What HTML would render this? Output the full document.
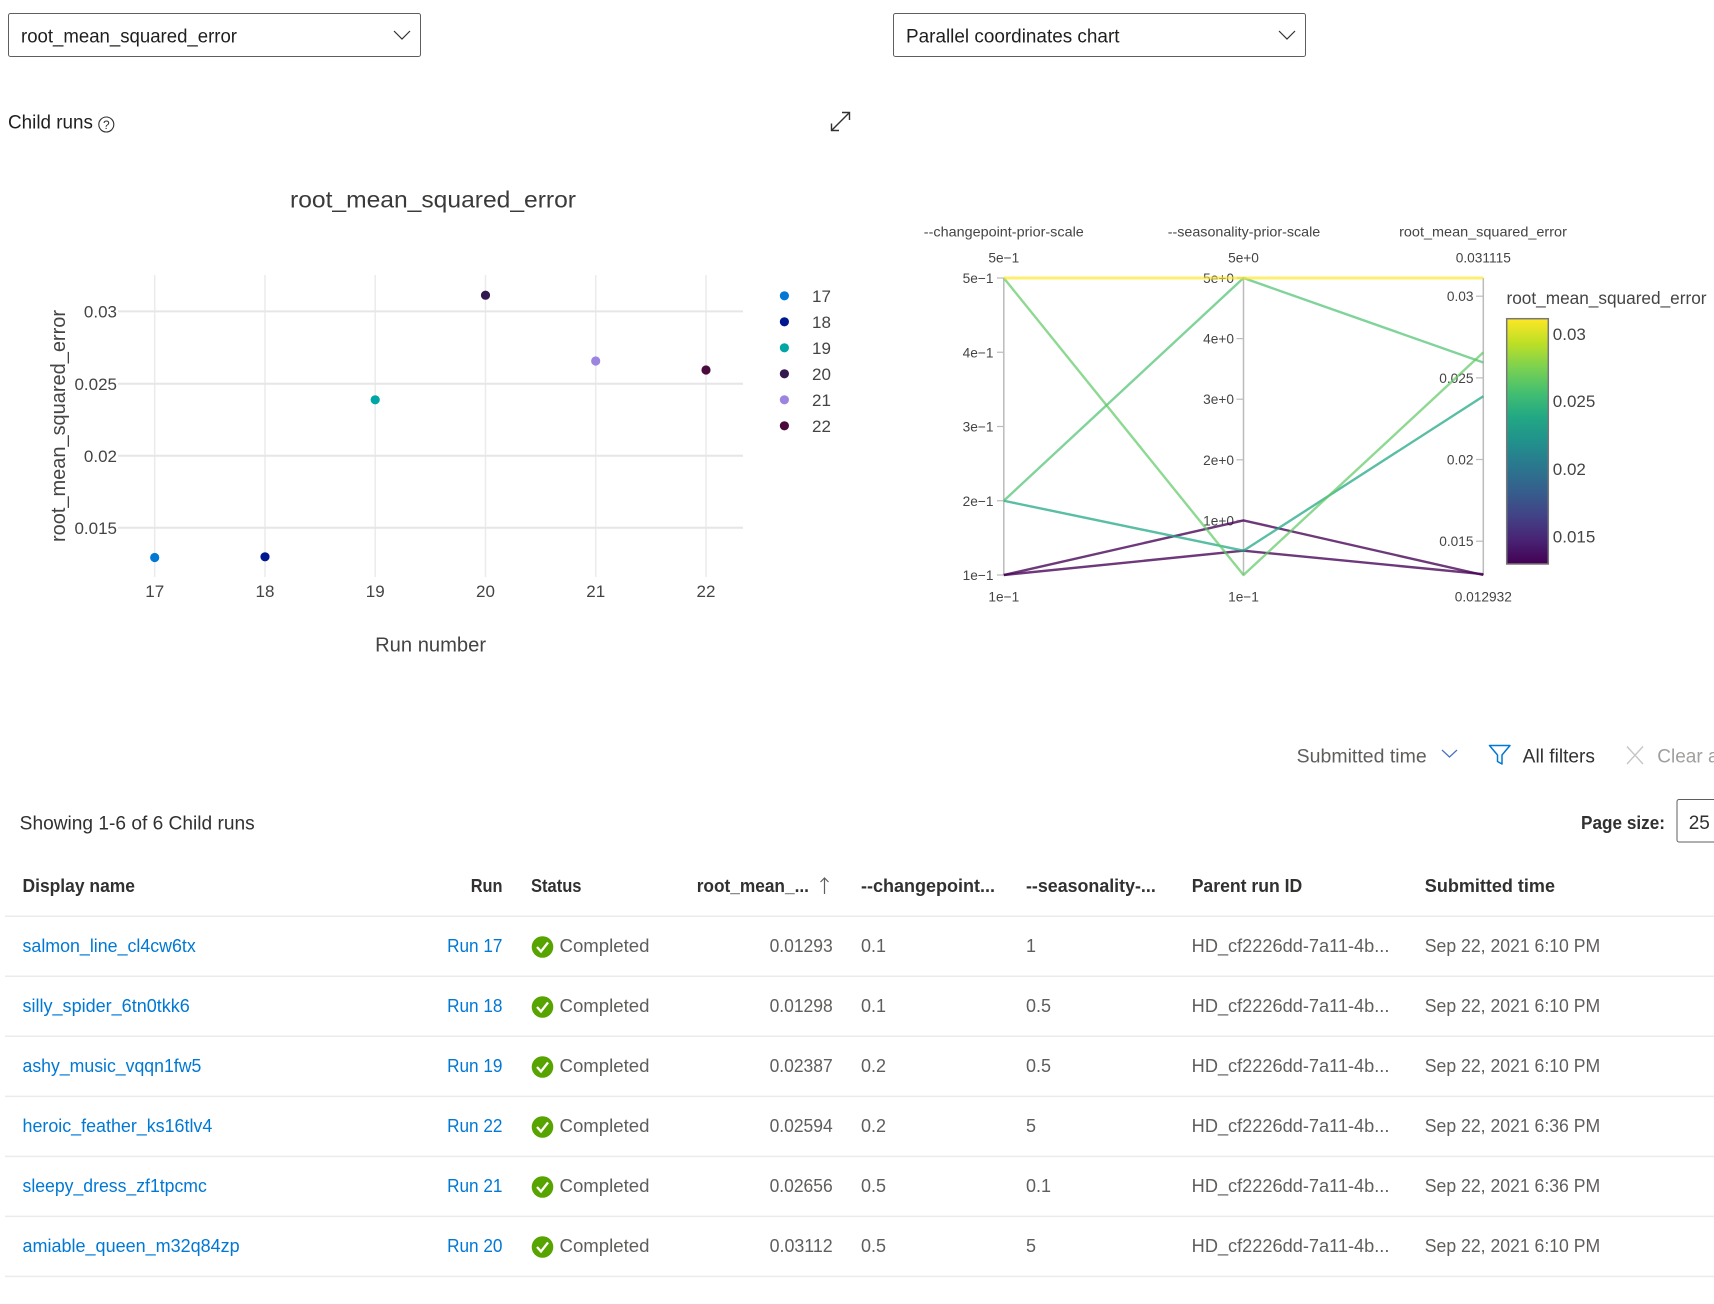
<!DOCTYPE html>
<html>
<head>
<meta charset="utf-8">
<style>
  html,body{margin:0;padding:0;background:#fff;}
  svg{display:block;}
  text{font-family:"Liberation Sans",sans-serif;}
</style>
</head>
<body>
<svg width="1714" height="1304" viewBox="0 0 1714 1304" xmlns="http://www.w3.org/2000/svg">
  <defs>
    <linearGradient id="vir" x1="0" y1="1" x2="0" y2="0">
      <stop offset="0" stop-color="#440154"/>
      <stop offset="0.1" stop-color="#482475"/>
      <stop offset="0.2" stop-color="#414487"/>
      <stop offset="0.3" stop-color="#355f8d"/>
      <stop offset="0.4" stop-color="#2a788e"/>
      <stop offset="0.5" stop-color="#21918c"/>
      <stop offset="0.6" stop-color="#22a884"/>
      <stop offset="0.7" stop-color="#44bf70"/>
      <stop offset="0.8" stop-color="#7ad151"/>
      <stop offset="0.9" stop-color="#bddf26"/>
      <stop offset="1" stop-color="#fde725"/>
    </linearGradient>
  </defs>

  <!-- Dropdown 1 -->
  <rect x="8.5" y="13.5" width="412" height="43" rx="2" fill="#fff" stroke="#605e5c" stroke-width="1"/>
  <text x="21" y="42.5" font-size="19" fill="#201f1e" textLength="216" lengthAdjust="spacingAndGlyphs">root_mean_squared_error</text>
  <polyline points="394,31 402,39 410,31" fill="none" stroke="#323130" stroke-width="1.2"/>

  <!-- Dropdown 2 -->
  <rect x="893.5" y="13.5" width="412" height="43" rx="2" fill="#fff" stroke="#605e5c" stroke-width="1"/>
  <text x="906" y="42.5" font-size="19" fill="#201f1e" textLength="213.5" lengthAdjust="spacingAndGlyphs">Parallel coordinates chart</text>
  <polyline points="1279,31 1287,39 1295,31" fill="none" stroke="#323130" stroke-width="1.2"/>

  <!-- Child runs -->
  <text x="8" y="128.3" font-size="19" fill="#201f1e" textLength="85" lengthAdjust="spacingAndGlyphs">Child runs</text>
  <circle cx="106.3" cy="124.5" r="7.5" fill="none" stroke="#323130" stroke-width="1.1"/>
  <text x="106.3" y="128.8" font-size="12" fill="#323130" text-anchor="middle">?</text>

  <!-- Expand icon -->
  <g stroke="#323130" stroke-width="1.4" fill="none">
    <line x1="832" y1="130" x2="849" y2="113"/>
    <polyline points="842,112.5 849.5,112.5 849.5,120"/>
    <polyline points="831.5,123.5 831.5,130.5 839,130.5"/>
  </g>

  <!-- Scatter chart -->
  <text x="433" y="207.3" font-size="23.5" fill="#3b3a39" text-anchor="middle" textLength="286" lengthAdjust="spacingAndGlyphs">root_mean_squared_error</text>

  <g stroke="#ebebeb" stroke-width="1.5">
    <line x1="154.7" y1="275" x2="154.7" y2="577"/>
    <line x1="265" y1="275" x2="265" y2="577"/>
    <line x1="375.2" y1="275" x2="375.2" y2="577"/>
    <line x1="485.5" y1="275" x2="485.5" y2="577"/>
    <line x1="595.7" y1="275" x2="595.7" y2="577"/>
    <line x1="706" y1="275" x2="706" y2="577"/>
  </g>
  <g stroke="#e6e6e6" stroke-width="2">
    <line x1="118" y1="311.4" x2="743" y2="311.4"/>
    <line x1="118" y1="383.8" x2="743" y2="383.8"/>
    <line x1="118" y1="455.8" x2="743" y2="455.8"/>
    <line x1="118" y1="527.8" x2="743" y2="527.8"/>
  </g>
  <g font-size="17" fill="#444" text-anchor="end">
    <text x="117" y="317.5">0.03</text>
    <text x="117" y="389.9">0.025</text>
    <text x="117" y="461.9">0.02</text>
    <text x="117" y="533.9">0.015</text>
  </g>
  <g font-size="17" fill="#444" text-anchor="middle">
    <text x="154.7" y="597">17</text>
    <text x="265" y="597">18</text>
    <text x="375.2" y="597">19</text>
    <text x="485.5" y="597">20</text>
    <text x="595.7" y="597">21</text>
    <text x="706" y="597">22</text>
  </g>
  <text x="430.6" y="651.5" font-size="20" fill="#444" text-anchor="middle" textLength="111" lengthAdjust="spacingAndGlyphs">Run number</text>
  <text transform="translate(65,426) rotate(-90)" font-size="20" fill="#444" text-anchor="middle" textLength="232" lengthAdjust="spacingAndGlyphs">root_mean_squared_error</text>

  <circle cx="154.7" cy="557.5" r="4.6" fill="#0078d4"/>
  <circle cx="265" cy="556.8" r="4.6" fill="#00188f"/>
  <circle cx="375.2" cy="399.8" r="4.6" fill="#00a6a6"/>
  <circle cx="485.5" cy="295.2" r="4.6" fill="#32184f"/>
  <circle cx="595.7" cy="361" r="4.6" fill="#9b85e0"/>
  <circle cx="706" cy="370" r="4.6" fill="#4b0a3c"/>

  <!-- Legend -->
  <circle cx="784.4" cy="295.8" r="4.6" fill="#0078d4"/>
  <circle cx="784.4" cy="321.8" r="4.6" fill="#00188f"/>
  <circle cx="784.4" cy="347.8" r="4.6" fill="#00a6a6"/>
  <circle cx="784.4" cy="373.8" r="4.6" fill="#32184f"/>
  <circle cx="784.4" cy="399.8" r="4.6" fill="#9b85e0"/>
  <circle cx="784.4" cy="425.8" r="4.6" fill="#4b0a3c"/>
  <g font-size="17" fill="#444">
    <text x="812" y="301.8">17</text>
    <text x="812" y="327.8">18</text>
    <text x="812" y="353.8">19</text>
    <text x="812" y="379.8">20</text>
    <text x="812" y="405.8">21</text>
    <text x="812" y="431.8">22</text>
  </g>

  <!-- Parallel coordinates -->
  <g font-size="14" fill="#444" text-anchor="middle">
    <text x="1003.8" y="236.5" textLength="160" lengthAdjust="spacingAndGlyphs">--changepoint-prior-scale</text>
    <text x="1244" y="236.5" textLength="152.5" lengthAdjust="spacingAndGlyphs">--seasonality-prior-scale</text>
    <text x="1483" y="236.5" textLength="167.8" lengthAdjust="spacingAndGlyphs">root_mean_squared_error</text>
  </g>
  <g font-size="13.7" fill="#444" text-anchor="middle">
    <text x="1003.8" y="262.7">5e−1</text>
    <text x="1243.5" y="262.7">5e+0</text>
    <text x="1483.3" y="262.7">0.031115</text>
    <text x="1003.8" y="601.7">1e−1</text>
    <text x="1243.5" y="601.7">1e−1</text>
    <text x="1483.3" y="601.7">0.012932</text>
  </g>

  <g stroke="#bbbbbb" stroke-width="1.5">
    <line x1="1003.8" y1="278" x2="1003.8" y2="575"/>
    <line x1="1243.5" y1="278" x2="1243.5" y2="575"/>
    <line x1="1483.3" y1="278" x2="1483.3" y2="575"/>
  </g>
  <g stroke="#bbbbbb" stroke-width="1.2">
    <line x1="997" y1="278" x2="1003.8" y2="278"/>
    <line x1="997" y1="352.25" x2="1003.8" y2="352.25"/>
    <line x1="997" y1="426.5" x2="1003.8" y2="426.5"/>
    <line x1="997" y1="500.75" x2="1003.8" y2="500.75"/>
    <line x1="997" y1="575" x2="1003.8" y2="575"/>
    <line x1="1236.5" y1="278" x2="1243.5" y2="278"/>
    <line x1="1236.5" y1="338.6" x2="1243.5" y2="338.6"/>
    <line x1="1236.5" y1="399.2" x2="1243.5" y2="399.2"/>
    <line x1="1236.5" y1="459.8" x2="1243.5" y2="459.8"/>
    <line x1="1236.5" y1="520.4" x2="1243.5" y2="520.4"/>
    <line x1="1476" y1="296.2" x2="1483.3" y2="296.2"/>
    <line x1="1476" y1="377.9" x2="1483.3" y2="377.9"/>
    <line x1="1476" y1="459.5" x2="1483.3" y2="459.5"/>
    <line x1="1476" y1="541.2" x2="1483.3" y2="541.2"/>
  </g>
  <g font-size="13.7" fill="#444" text-anchor="end">
    <text x="993.5" y="283">5e−1</text>
    <text x="993.5" y="357.3">4e−1</text>
    <text x="993.5" y="431.5">3e−1</text>
    <text x="993.5" y="505.8">2e−1</text>
    <text x="993.5" y="580">1e−1</text>
    <text x="1234" y="283">5e+0</text>
    <text x="1234" y="343.6">4e+0</text>
    <text x="1234" y="404.2">3e+0</text>
    <text x="1234" y="464.8">2e+0</text>
    <text x="1234" y="525.4">1e+0</text>
    <text x="1473.5" y="301.2">0.03</text>
    <text x="1473.5" y="382.9">0.025</text>
    <text x="1473.5" y="464.5">0.02</text>
    <text x="1473.5" y="546.2">0.015</text>
  </g>

  <g fill="none" stroke-width="2.4" stroke-linejoin="round">
    <polyline points="1003.8,575 1243.5,520.4 1483.3,575" stroke="#440154" stroke-opacity="0.78"/>
    <polyline points="1003.8,575 1243.5,550.7 1483.3,574.2" stroke="#440154" stroke-opacity="0.78"/>
    <polyline points="1003.8,500.75 1243.5,550.7 1483.3,396.3" stroke="#22a884" stroke-opacity="0.75"/>
    <polyline points="1003.8,500.75 1243.5,278 1483.3,362.5" stroke="#4ac16d" stroke-opacity="0.7"/>
    <polyline points="1003.8,278 1243.5,575 1483.3,352.4" stroke="#5ec962" stroke-opacity="0.7"/>
    <polyline points="1003.8,278 1243.5,278 1483.3,278" stroke="#fde725" stroke-opacity="0.65" stroke-width="3"/>
  </g>

  <!-- Colorbar -->
  <text x="1506.5" y="304" font-size="17.2" fill="#444" textLength="200" lengthAdjust="spacingAndGlyphs">root_mean_squared_error</text>
  <rect x="1506.7" y="318.7" width="41.6" height="245.3" fill="url(#vir)" stroke="#777" stroke-width="1.5"/>
  <g font-size="17" fill="#444">
    <text x="1552.8" y="340">0.03</text>
    <text x="1552.8" y="407">0.025</text>
    <text x="1552.8" y="475">0.02</text>
    <text x="1552.8" y="542.4">0.015</text>
  </g>

  <!-- Toolbar -->
  <text x="1296.7" y="762.5" font-size="19" fill="#605e5c" textLength="130" lengthAdjust="spacingAndGlyphs">Submitted time</text>
  <polyline points="1442,750 1449.5,757 1457,750" fill="none" stroke="#4a6fc0" stroke-width="1.2"/>
  <path d="M1489.5,745.5 L1510,745.5 L1502,755 L1502,764 L1497.5,761.5 L1497.5,755 Z" fill="none" stroke="#0078d4" stroke-width="1.5" stroke-linejoin="round"/>
  <text x="1522.7" y="762.5" font-size="19" fill="#323130" textLength="72.3" lengthAdjust="spacingAndGlyphs">All filters</text>
  <g stroke="#c8c6c4" stroke-width="1.4">
    <line x1="1627" y1="746.5" x2="1643" y2="764"/>
    <line x1="1643" y1="746.5" x2="1627" y2="764"/>
  </g>
  <text x="1657.3" y="762.5" font-size="19" fill="#a19f9d">Clear all</text>

  <!-- Showing / Page size -->
  <text x="19.7" y="829.5" font-size="19" fill="#323130" textLength="235" lengthAdjust="spacingAndGlyphs">Showing 1-6 of 6 Child runs</text>
  <text x="1581" y="829" font-size="18" font-weight="bold" fill="#323130" textLength="84" lengthAdjust="spacingAndGlyphs">Page size:</text>
  <rect x="1677" y="799.5" width="60" height="42.5" rx="2" fill="#fff" stroke="#605e5c" stroke-width="1"/>
  <text x="1688.7" y="829" font-size="19" fill="#323130">25</text>

  <!-- Table header -->
  <g font-size="18" font-weight="bold" fill="#323130">
    <text x="22.5" y="892" textLength="112.5" lengthAdjust="spacingAndGlyphs">Display name</text>
    <text x="502.5" y="892" text-anchor="end" textLength="31.8" lengthAdjust="spacingAndGlyphs">Run</text>
    <text x="531" y="892" textLength="50.5" lengthAdjust="spacingAndGlyphs">Status</text>
    <text x="696.7" y="892" textLength="112.3" lengthAdjust="spacingAndGlyphs">root_mean_...</text>
    <text x="861" y="892" textLength="134" lengthAdjust="spacingAndGlyphs">--changepoint...</text>
    <text x="1026" y="892" textLength="129.8" lengthAdjust="spacingAndGlyphs">--seasonality-...</text>
    <text x="1191.7" y="892" textLength="110.6" lengthAdjust="spacingAndGlyphs">Parent run ID</text>
    <text x="1424.8" y="892" textLength="130.2" lengthAdjust="spacingAndGlyphs">Submitted time</text>
  </g>
  <g stroke="#605e5c" stroke-width="1.2" fill="none">
    <line x1="824.5" y1="878" x2="824.5" y2="894"/>
    <polyline points="820.5,882 824.5,878 828.5,882"/>
  </g>

  <!-- Row borders -->
  <g stroke="#edebe9" stroke-width="1.5">
    <line x1="5" y1="916.3" x2="1714" y2="916.3"/>
    <line x1="5" y1="976.3" x2="1714" y2="976.3"/>
    <line x1="5" y1="1036.3" x2="1714" y2="1036.3"/>
    <line x1="5" y1="1096.4" x2="1714" y2="1096.4"/>
    <line x1="5" y1="1156.4" x2="1714" y2="1156.4"/>
    <line x1="5" y1="1216.4" x2="1714" y2="1216.4"/>
    <line x1="5" y1="1276.4" x2="1714" y2="1276.4"/>
  </g>

  <!-- Rows -->
  <g font-size="18">
    <!-- row 1 -->
    <text x="22.5" y="952" fill="#0078d4" textLength="173.3" lengthAdjust="spacingAndGlyphs">salmon_line_cl4cw6tx</text>
    <text x="502.5" y="952" fill="#0078d4" text-anchor="end" textLength="55.4" lengthAdjust="spacingAndGlyphs">Run 17</text>
    <circle cx="542.5" cy="947" r="10.8" fill="#57a300"/>
    <polyline points="537,947 541,951.5 548,942.5" fill="none" stroke="#fff" stroke-width="2.3"/>
    <text x="559.5" y="952" fill="#605e5c" textLength="90" lengthAdjust="spacingAndGlyphs">Completed</text>
    <text x="832.7" y="952" fill="#605e5c" text-anchor="end" textLength="63.1" lengthAdjust="spacingAndGlyphs">0.01293</text>
    <text x="861" y="952" fill="#605e5c">0.1</text>
    <text x="1026" y="952" fill="#605e5c">1</text>
    <text x="1191.7" y="952" fill="#605e5c" textLength="197.7" lengthAdjust="spacingAndGlyphs">HD_cf2226dd-7a11-4b...</text>
    <text x="1424.8" y="952" fill="#605e5c" textLength="175.4" lengthAdjust="spacingAndGlyphs">Sep 22, 2021 6:10 PM</text>

    <!-- row 2 -->
    <text x="22.5" y="1012" fill="#0078d4" textLength="167.3" lengthAdjust="spacingAndGlyphs">silly_spider_6tn0tkk6</text>
    <text x="502.5" y="1012" fill="#0078d4" text-anchor="end" textLength="55.4" lengthAdjust="spacingAndGlyphs">Run 18</text>
    <circle cx="542.5" cy="1007" r="10.8" fill="#57a300"/>
    <polyline points="537,1007 541,1011.5 548,1002.5" fill="none" stroke="#fff" stroke-width="2.3"/>
    <text x="559.5" y="1012" fill="#605e5c" textLength="90" lengthAdjust="spacingAndGlyphs">Completed</text>
    <text x="832.7" y="1012" fill="#605e5c" text-anchor="end" textLength="63.1" lengthAdjust="spacingAndGlyphs">0.01298</text>
    <text x="861" y="1012" fill="#605e5c">0.1</text>
    <text x="1026" y="1012" fill="#605e5c">0.5</text>
    <text x="1191.7" y="1012" fill="#605e5c" textLength="197.7" lengthAdjust="spacingAndGlyphs">HD_cf2226dd-7a11-4b...</text>
    <text x="1424.8" y="1012" fill="#605e5c" textLength="175.4" lengthAdjust="spacingAndGlyphs">Sep 22, 2021 6:10 PM</text>

    <!-- row 3 -->
    <text x="22.5" y="1072" fill="#0078d4" textLength="178.8" lengthAdjust="spacingAndGlyphs">ashy_music_vqqn1fw5</text>
    <text x="502.5" y="1072" fill="#0078d4" text-anchor="end" textLength="55.4" lengthAdjust="spacingAndGlyphs">Run 19</text>
    <circle cx="542.5" cy="1067" r="10.8" fill="#57a300"/>
    <polyline points="537,1067 541,1071.5 548,1062.5" fill="none" stroke="#fff" stroke-width="2.3"/>
    <text x="559.5" y="1072" fill="#605e5c" textLength="90" lengthAdjust="spacingAndGlyphs">Completed</text>
    <text x="832.7" y="1072" fill="#605e5c" text-anchor="end" textLength="63.1" lengthAdjust="spacingAndGlyphs">0.02387</text>
    <text x="861" y="1072" fill="#605e5c">0.2</text>
    <text x="1026" y="1072" fill="#605e5c">0.5</text>
    <text x="1191.7" y="1072" fill="#605e5c" textLength="197.7" lengthAdjust="spacingAndGlyphs">HD_cf2226dd-7a11-4b...</text>
    <text x="1424.8" y="1072" fill="#605e5c" textLength="175.4" lengthAdjust="spacingAndGlyphs">Sep 22, 2021 6:10 PM</text>

    <!-- row 4 -->
    <text x="22.5" y="1132" fill="#0078d4" textLength="189.8" lengthAdjust="spacingAndGlyphs">heroic_feather_ks16tlv4</text>
    <text x="502.5" y="1132" fill="#0078d4" text-anchor="end" textLength="55.4" lengthAdjust="spacingAndGlyphs">Run 22</text>
    <circle cx="542.5" cy="1127" r="10.8" fill="#57a300"/>
    <polyline points="537,1127 541,1131.5 548,1122.5" fill="none" stroke="#fff" stroke-width="2.3"/>
    <text x="559.5" y="1132" fill="#605e5c" textLength="90" lengthAdjust="spacingAndGlyphs">Completed</text>
    <text x="832.7" y="1132" fill="#605e5c" text-anchor="end" textLength="63.1" lengthAdjust="spacingAndGlyphs">0.02594</text>
    <text x="861" y="1132" fill="#605e5c">0.2</text>
    <text x="1026" y="1132" fill="#605e5c">5</text>
    <text x="1191.7" y="1132" fill="#605e5c" textLength="197.7" lengthAdjust="spacingAndGlyphs">HD_cf2226dd-7a11-4b...</text>
    <text x="1424.8" y="1132" fill="#605e5c" textLength="175.4" lengthAdjust="spacingAndGlyphs">Sep 22, 2021 6:36 PM</text>

    <!-- row 5 -->
    <text x="22.5" y="1192" fill="#0078d4" textLength="184.3" lengthAdjust="spacingAndGlyphs">sleepy_dress_zf1tpcmc</text>
    <text x="502.5" y="1192" fill="#0078d4" text-anchor="end" textLength="55.4" lengthAdjust="spacingAndGlyphs">Run 21</text>
    <circle cx="542.5" cy="1187" r="10.8" fill="#57a300"/>
    <polyline points="537,1187 541,1191.5 548,1182.5" fill="none" stroke="#fff" stroke-width="2.3"/>
    <text x="559.5" y="1192" fill="#605e5c" textLength="90" lengthAdjust="spacingAndGlyphs">Completed</text>
    <text x="832.7" y="1192" fill="#605e5c" text-anchor="end" textLength="63.1" lengthAdjust="spacingAndGlyphs">0.02656</text>
    <text x="861" y="1192" fill="#605e5c">0.5</text>
    <text x="1026" y="1192" fill="#605e5c">0.1</text>
    <text x="1191.7" y="1192" fill="#605e5c" textLength="197.7" lengthAdjust="spacingAndGlyphs">HD_cf2226dd-7a11-4b...</text>
    <text x="1424.8" y="1192" fill="#605e5c" textLength="175.4" lengthAdjust="spacingAndGlyphs">Sep 22, 2021 6:36 PM</text>

    <!-- row 6 -->
    <text x="22.5" y="1252" fill="#0078d4" textLength="217.2" lengthAdjust="spacingAndGlyphs">amiable_queen_m32q84zp</text>
    <text x="502.5" y="1252" fill="#0078d4" text-anchor="end" textLength="55.4" lengthAdjust="spacingAndGlyphs">Run 20</text>
    <circle cx="542.5" cy="1247" r="10.8" fill="#57a300"/>
    <polyline points="537,1247 541,1251.5 548,1242.5" fill="none" stroke="#fff" stroke-width="2.3"/>
    <text x="559.5" y="1252" fill="#605e5c" textLength="90" lengthAdjust="spacingAndGlyphs">Completed</text>
    <text x="832.7" y="1252" fill="#605e5c" text-anchor="end" textLength="63.1" lengthAdjust="spacingAndGlyphs">0.03112</text>
    <text x="861" y="1252" fill="#605e5c">0.5</text>
    <text x="1026" y="1252" fill="#605e5c">5</text>
    <text x="1191.7" y="1252" fill="#605e5c" textLength="197.7" lengthAdjust="spacingAndGlyphs">HD_cf2226dd-7a11-4b...</text>
    <text x="1424.8" y="1252" fill="#605e5c" textLength="175.4" lengthAdjust="spacingAndGlyphs">Sep 22, 2021 6:10 PM</text>
  </g>
</svg>
</body>
</html>
